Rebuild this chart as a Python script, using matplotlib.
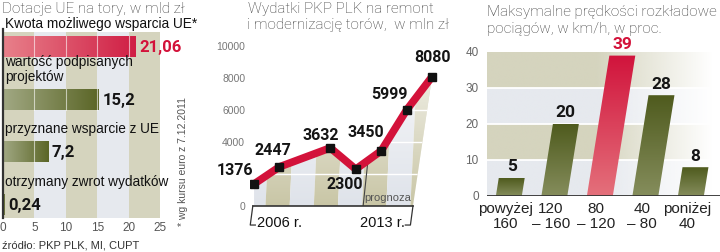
import numpy as np
import matplotlib
matplotlib.use('Agg')
import matplotlib.pyplot as plt
from matplotlib.patches import Polygon, Rectangle
from matplotlib.colors import LinearSegmentedColormap, to_rgb

# --- data ---
eu_labels = ['Kwota możliwego wsparcia UE*', 'wartość podpisanych\nprojektów',
             'przyznane wsparcie z UE', 'otrzymany zwrot wydatków']
eu_values = [21.06, 15.2, 7.2, 0.24]
eu_value_text = ['21,06', '15,2', '7,2', '0,24']
eu_xticks = [0, 5, 10, 15, 20, 25]

plk_years = [2006, 2007, 2009, 2010, 2011, 2012, 2013]
plk_values = [1376, 2447, 3632, 2300, 3450, 5999, 8080]
plk_yticks = [0, 4000, 6000, 8000, 10000]

speed_labels = ['powyżej\n160', '120\n– 160', '80\n– 120', '40\n– 80', 'poniżej\n40']
speed_values = [5, 20, 39, 28, 8]
speed_yticks = [0, 10, 20, 30, 40]

RED = '#d3123a'
KHAKI = '#d5d4be'
LIGHT = '#e6e9ee'
BOLD = dict(family=['Roboto', 'DejaVu Sans'], fontweight='bold')
TITLE = dict(family=['Roboto', 'DejaVu Sans'], fontweight='light', fontsize=11, color='#3a3a3a')
plt.rcParams['font.family'] = ['Liberation Sans', 'DejaVu Sans']

fig = plt.figure(figsize=(7.2, 2.52), dpi=100)


def px_axes(x0, y0, x1, y1):
    ax = fig.add_axes([x0 / 720, 1 - y1 / 252, (x1 - x0) / 720, (y1 - y0) / 252])
    for s in ax.spines.values():
        s.set_visible(False)
    return ax


def gradient(ax, patch, c1, c2, extent, horizontal=True, z=2):
    cmap = LinearSegmentedColormap.from_list('g', [c1, c2])
    arr = np.linspace(0, 1, 100)
    arr = arr.reshape(1, -1) if horizontal else arr.reshape(-1, 1)
    im = ax.imshow(arr, cmap=cmap, extent=extent, aspect='auto', origin='lower',
                   zorder=z, interpolation='bilinear')
    im.set_clip_path(patch)


# ---------- panel 1: EU subsidies ----------
ax1 = px_axes(3, 20, 160, 218)
for k in range(5):
    ax1.add_patch(Rectangle((5 * k, -0.29), 5, 3.6, color=KHAKI if k % 2 == 0 else LIGHT,
                            zorder=0, lw=0))
ax1.plot([0, 0], [-0.33, 3.26], color='#333', lw=1.6, clip_on=False, zorder=4)
h = 0.4
for i, (lab, v, txt) in enumerate(zip(eu_labels, eu_values, eu_value_text)):
    rect = Rectangle((0, i - h / 2), v, h, facecolor='none', edgecolor='none')
    ax1.add_patch(rect)
    if i == 0:
        gradient(ax1, rect, '#e8808a', '#d01f45', (0, v, i - h / 2, i + h / 2))
    else:
        gradient(ax1, rect, '#a1a883', '#5b6627', (0, v, i - h / 2, i + h / 2))
    for x in eu_xticks[1:-1]:
        if x < v:
            ax1.plot([x, x], [i - h / 2, i + h / 2], color='white', lw=0.8, alpha=0.6, zorder=3)
    ax1.text(v + 0.6, i + 0.02, txt, va='center', ha='left', fontsize=12,
             color=RED if i == 0 else '#151515', zorder=5, **BOLD)
    ax1.text(0.35, i - h / 2 - 0.1, lab, va='bottom', ha='left', fontsize=9.8,
             color='#111', linespacing=1.05, zorder=5)
ax1.set_xlim(0, 25)
ax1.set_ylim(3.26, -0.51)
ax1.set_yticks([])
ax1.set_xticks(eu_xticks)
ax1.tick_params(axis='x', length=0, labelsize=8.5, labelcolor='#555', pad=3)

fig.text(183 / 720, 1 - 226 / 252, '* wg kursu euro z 7.12.2011', rotation=90, ha='center',
         va='bottom', fontsize=7.5, color='#555')
fig.text(2 / 720, 1 - 245 / 252, 'źródło: PKP PLK, MI, CUPT', va='center', fontsize=8,
         color='#333')
fig.text(2 / 720, 1 - 9 / 252, 'Dotacje UE na tory, w mld zł', va='center', **TITLE)

# ---------- panel 2: PKP PLK spending ----------
ax2 = px_axes(250, 40, 445, 206)
floor_end = 2012.25
verts = [(plk_years[0], 0)] + list(zip(plk_years, plk_values)) + [(floor_end, 0)]
clip = Polygon(verts, closed=True, facecolor='none', edgecolor='none')
ax2.add_patch(clip)
for k, x in enumerate(np.arange(2005.5, 2013.5, 0.95)):
    s = Polygon([(x, 0), (x + 0.95, 0), (x + 1.25, 10000), (x + 0.3, 10000)],
                closed=True, color='#c9c6a6' if k % 2 else '#dfe3ea', lw=0, zorder=1)
    ax2.add_patch(s)
    s.set_clip_path(clip)
# fade stripes toward the top
fade = np.ones((100, 1, 4))
fade[..., 3] = np.linspace(0, 0.75, 100).reshape(-1, 1)
im = ax2.imshow(fade, extent=(2005.8, 2013.5, 0, 9000), aspect='auto', origin='lower', zorder=1.5,
                interpolation='bilinear')
im.set_clip_path(clip)
for gy in [2000, 4000, 6000, 8000]:
    ln, = ax2.plot([2005.8, 2013.5], [gy, gy], color='white', lw=1, zorder=2)
    ln.set_clip_path(clip)
# forecast divider
px0, px1 = 2010.29, 2010.48
ax2.plot([px0, px1], [0, np.interp(px1, plk_years, plk_values)], color='#444', lw=0.8, zorder=3)
ax2.text(2011.27, 520, 'prognoza', ha='center', va='center', fontsize=8, color='#555', zorder=3)

ax2.plot(plk_years, plk_values, color=RED, lw=5.5, solid_capstyle='butt', zorder=5)
ax2.plot(plk_years, plk_values, 's', ms=5.5, color='#111', zorder=6)
offsets = [(-19, 13), (-7, 16), (-10, 12), (-11, -15), (-15, 18), (-17, 16), (0, 19)]
for x, v, off in zip(plk_years, plk_values, offsets):
    ax2.annotate(str(v), (x, v), xytext=off, textcoords='offset pixels', ha='center',
                 va='center', fontsize=11.5, color='#151515', zorder=7, **BOLD)

ax2.plot([2005.95, floor_end], [0, 0], color='#333', lw=1.2, zorder=4, clip_on=False)
ax2.plot([2005.95, 2005.85, 2006.05], [0, -1190, -1190], color='#333', lw=0.9, clip_on=False)
ax2.plot([floor_end, floor_end - 0.1, floor_end - 0.3], [0, -1190, -1190], color='#333', lw=0.9,
         clip_on=False)
ax2.text(2006.12, -1060, '2006 r.', ha='left', va='center', fontsize=10.5, color='#111')
ax2.text(floor_end - 0.3, -1060, '2013 r.', ha='right', va='center', fontsize=10.5, color='#111')

ax2.set_xlim(2005.84, 2013.51)
ax2.set_ylim(0, 10375)
ax2.set_xticks([])
ax2.set_yticks(plk_yticks)
ax2.tick_params(axis='y', length=0, labelsize=7.5, labelcolor='#777', pad=3.5)
fig.text(248 / 720, 1 - 9 / 252, 'Wydatki PKP PLK na remont', va='center', **TITLE)
fig.text(247 / 720, 1 - 25 / 252, 'i modernizację torów,  w mln zł', va='center', **TITLE)

# ---------- panel 3: timetable speeds ----------
ax3 = px_axes(487, 52, 720, 196)
xl = (-0.48, 4.64)
t = np.linspace(0, 1, 200)
alpha = np.clip((0.97 - t) / 0.5, 0, 1)
for k in range(4):
    c = to_rgb(KHAKI if k % 2 else LIGHT)
    img = np.zeros((1, 200, 4))
    img[..., :3] = c
    img[..., 3] = alpha
    ax3.imshow(img, extent=(xl[0], xl[1], 10 * k, 10 * k + 10), aspect='auto', zorder=0,
               interpolation='bilinear')
for gy in [10, 20, 30]:
    ax3.axhline(gy, color='white', lw=1.3, zorder=1)
ax3.axhline(0, color='#333', lw=1.3, zorder=4)

w = 0.57
for i, v in enumerate(speed_values):
    shift = v * 3.6 * 0.16 / 45.5
    poly = Polygon([(i - w / 2, 0), (i + w / 2, 0), (i + w / 2 + shift, v), (i - w / 2 + shift, v)],
                   closed=True, facecolor='none', edgecolor='none')
    ax3.add_patch(poly)
    if v == max(speed_values):
        gradient(ax3, poly, '#e4707b', '#d1143c', (i - w / 2, i + w / 2 + shift, 0, v),
                 horizontal=False)
    else:
        gradient(ax3, poly, '#858d5c', '#4f5b1e', (i - w / 2, i + w / 2 + shift, 0, v),
                 horizontal=False)
    ax3.text(i + shift, v + 1.0, str(v), ha='center', va='bottom', fontsize=12.5,
             color=RED if v == max(speed_values) else '#151515', clip_on=False, zorder=5, **BOLD)

ax3.set_xlim(*xl)
ax3.set_ylim(0, 40)
ax3.set_xticks(np.arange(len(speed_labels)) - 0.08)
ax3.set_xticklabels(speed_labels, fontsize=11, color='#222', linespacing=1.1)
ax3.set_yticks(speed_yticks)
ax3.tick_params(axis='y', length=0, labelsize=8.5, labelcolor='#666', pad=6)
ax3.tick_params(axis='x', length=0, pad=4)
fig.text(487 / 720, 1 - 12 / 252, 'Maksymalne prędkości rozkładowe', va='center', **TITLE)
fig.text(487 / 720, 1 - 29 / 252, 'pociągów, w km/h, w proc.', va='center', **TITLE)

fig.savefig('out.png', dpi=100)
